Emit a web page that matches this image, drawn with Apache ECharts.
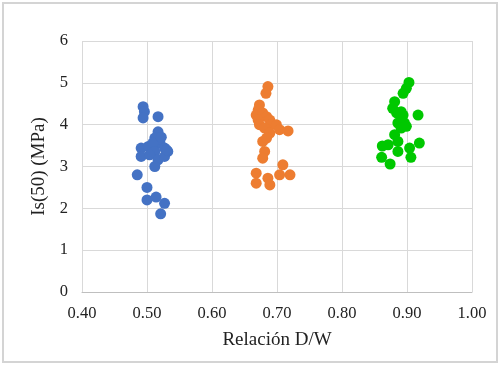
<!DOCTYPE html>
<html><head><meta charset="utf-8">
<script src="https://cdn.jsdelivr.net/npm/echarts@6/dist/echarts.min.js"></script>
<style>html,body{margin:0;padding:0;background:#fff}#c{width:500px;height:365px}</style>
</head><body><div id="c"></div>
<script>
var xTicks = ['0.40','0.50','0.60','0.70','0.80','0.90','1.00'];
var yTicks = ['0','1','2','3','4','5','6'];
var blueX = [0.494,0.496,0.494,0.517,0.517,0.512,0.520,0.527,0.532,0.491,0.502,0.509,0.512,0.491,0.504,0.517,0.527,0.512,0.485,0.500,0.500,0.514,0.527,0.521,0.522,0.530];
var blueY = [4.43,4.31,4.16,4.19,3.83,3.68,3.56,3.44,3.36,3.44,3.48,3.56,3.36,3.24,3.28,3.16,3.24,3.00,2.80,2.50,2.20,2.27,2.12,1.87,3.70,3.40];
var orangeX = [0.686,0.683,0.673,0.671,0.668,0.678,0.684,0.671,0.689,0.691,0.673,0.681,0.699,0.704,0.717,0.689,0.678,0.684,0.681,0.678,0.709,0.704,0.720,0.668,0.668,0.686,0.689];
var orangeY = [4.91,4.75,4.47,4.35,4.23,4.28,4.19,4.11,4.11,4.00,4.00,3.92,4.00,3.88,3.85,3.80,3.60,3.68,3.36,3.20,3.04,2.80,2.80,2.84,2.60,2.72,2.56];
var greenX = [0.903,0.899,0.894,0.881,0.878,0.891,0.894,0.917,0.884,0.891,0.886,0.896,0.891,0.899,0.881,0.886,0.862,0.871,0.919,0.904,0.886,0.861,0.906,0.874];
var greenY = [5.01,4.87,4.75,4.55,4.39,4.31,4.23,4.23,4.28,4.11,4.04,4.04,3.92,3.96,3.76,3.60,3.49,3.52,3.56,3.44,3.36,3.22,3.22,3.06];
function pts(xs, ys){ return xs.map(function(x,i){return [x, ys[i]];}); }
var chart = echarts.init(document.getElementById('c'), null, {renderer:'canvas'});
var font = '"Liberation Serif", "Times New Roman", serif';
chart.setOption({
  animation: false,
  graphic: [{type:'rect', shape:{x:3,y:3,width:494,height:359}, style:{fill:'none', stroke:'#d4d4d4', lineWidth:2}, silent:true}],
  grid: {left:82, right:28, top:41, bottom:73},
  xAxis: {
    type:'value', min:0.4, max:1.0, interval:0.1,
    name:'Relación D/W', nameLocation:'middle', nameGap:39,
    nameTextStyle:{fontFamily:font, fontSize:19, color:'#222'},
    axisLine:{show:true, lineStyle:{color:'#bfbfbf'}},
    axisTick:{show:false},
    axisLabel:{margin:13, fontFamily:font, fontSize:16.5, color:'#222', formatter:function(v){ var i=Math.round((v-0.4)/0.1); return xTicks[i]; }},
    splitLine:{show:true, lineStyle:{color:'#d9d9d9'}}
  },
  yAxis: {
    type:'value', min:0, max:6, interval:1,
    name:'Is(50) (MPa)', nameLocation:'middle', nameGap:32,
    nameTextStyle:{fontFamily:font, fontSize:19, color:'#222'},
    axisLine:{show:false}, axisTick:{show:false},
    axisLabel:{margin:14, fontFamily:font, fontSize:16.5, color:'#222', formatter:function(v){ return yTicks[Math.round(v)]; }},
    splitLine:{show:true, lineStyle:{color:'#d9d9d9'}}
  },
  series: [
    {type:'scatter', data:pts(blueX, blueY), symbolSize:11, itemStyle:{color:'#4472C4', opacity:1}},
    {type:'scatter', data:pts(orangeX, orangeY), symbolSize:11, itemStyle:{color:'#ED7D31', opacity:1}},
    {type:'scatter', data:pts(greenX, greenY), symbolSize:11, itemStyle:{color:'#00C800', opacity:1}}
  ]
});
</script></body></html>
